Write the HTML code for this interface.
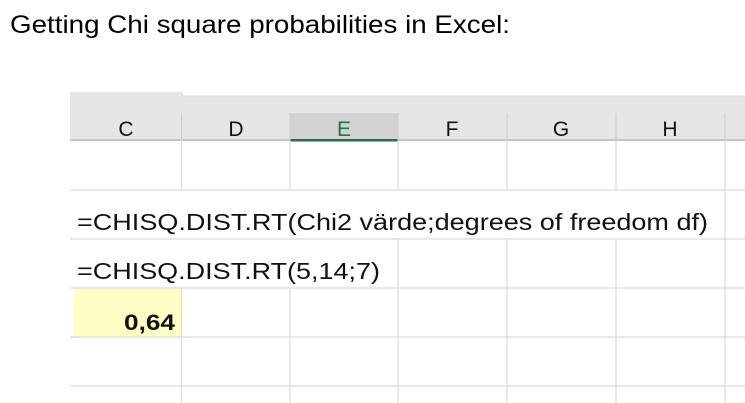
<!DOCTYPE html>
<html><head><meta charset="utf-8"><style>
html,body{margin:0;padding:0;background:#fff;width:745px;height:403px;overflow:hidden}
svg{display:block}
</style></head><body>
<svg width="745" height="403" viewBox="0 0 745 403" xmlns="http://www.w3.org/2000/svg">
<text x="10" y="33" font-family="Liberation Sans, sans-serif" font-size="25" textLength="500" lengthAdjust="spacingAndGlyphs" fill="#000">Getting Chi square probabilities in Excel:</text>
<rect x="70" y="92" width="113" height="5" fill="#e6e6e6"/>
<rect x="70" y="96" width="675" height="44" fill="#e6e6e6"/>
<line x1="183" y1="96" x2="745" y2="96" stroke="#d4d4d4" stroke-width="1"/>
<rect x="290" y="113" width="108" height="27" fill="#d2d2d2"/>
<rect x="70" y="139.5" width="675" height="1.2" fill="#a8a8a8"/>
<rect x="290" y="139" width="108" height="2.5" fill="#217346"/>
<g stroke="#c8c8c8" stroke-width="1">
<line x1="181.5" y1="113" x2="181.5" y2="140"/><line x1="290" y1="113" x2="290" y2="140"/>
<line x1="398" y1="113" x2="398" y2="140"/><line x1="507" y1="113" x2="507" y2="140"/>
<line x1="616" y1="113" x2="616" y2="140"/><line x1="725" y1="113" x2="725" y2="140"/>
</g>
<g font-family="Liberation Sans, sans-serif" font-size="21" text-anchor="middle" fill="#111">
<text x="126" y="136">C</text>
<text x="236" y="136">D</text>
<text x="344" y="136" fill="#217346">E</text>
<text x="452" y="136">F</text>
<text x="561" y="136">G</text>
<text x="670" y="136">H</text>
</g>
<rect x="73" y="288" width="108" height="49" fill="#ffffc5"/>
<g stroke="#dadada" stroke-width="1.2">
<line x1="70" y1="190" x2="745" y2="190"/><line x1="70" y1="239" x2="745" y2="239"/>
<line x1="70" y1="288" x2="745" y2="288"/><line x1="70" y1="337" x2="745" y2="337"/>
<line x1="70" y1="386" x2="745" y2="386"/>
<line x1="181.5" y1="140" x2="181.5" y2="190"/><line x1="290" y1="140" x2="290" y2="190"/>
<line x1="398" y1="140" x2="398" y2="190"/><line x1="507" y1="140" x2="507" y2="190"/>
<line x1="616" y1="140" x2="616" y2="190"/><line x1="725" y1="140" x2="725" y2="403"/>
<line x1="398" y1="239" x2="398" y2="403"/><line x1="507" y1="239" x2="507" y2="403"/>
<line x1="616" y1="239" x2="616" y2="403"/>
<line x1="181.5" y1="288" x2="181.5" y2="403"/><line x1="290" y1="288" x2="290" y2="403"/>
</g>
<g font-family="Liberation Sans, sans-serif" fill="#111">
<text x="77" y="230" font-size="23" textLength="631" lengthAdjust="spacingAndGlyphs">=CHISQ.DIST.RT(Chi2 värde;degrees of freedom df)</text>
<text x="77" y="279" font-size="23" textLength="303" lengthAdjust="spacingAndGlyphs">=CHISQ.DIST.RT(5,14;7)</text>
<text x="175" y="330" font-size="22" font-weight="bold" text-anchor="end" textLength="51" lengthAdjust="spacingAndGlyphs">0,64</text>
</g>
</svg>
</body></html>
